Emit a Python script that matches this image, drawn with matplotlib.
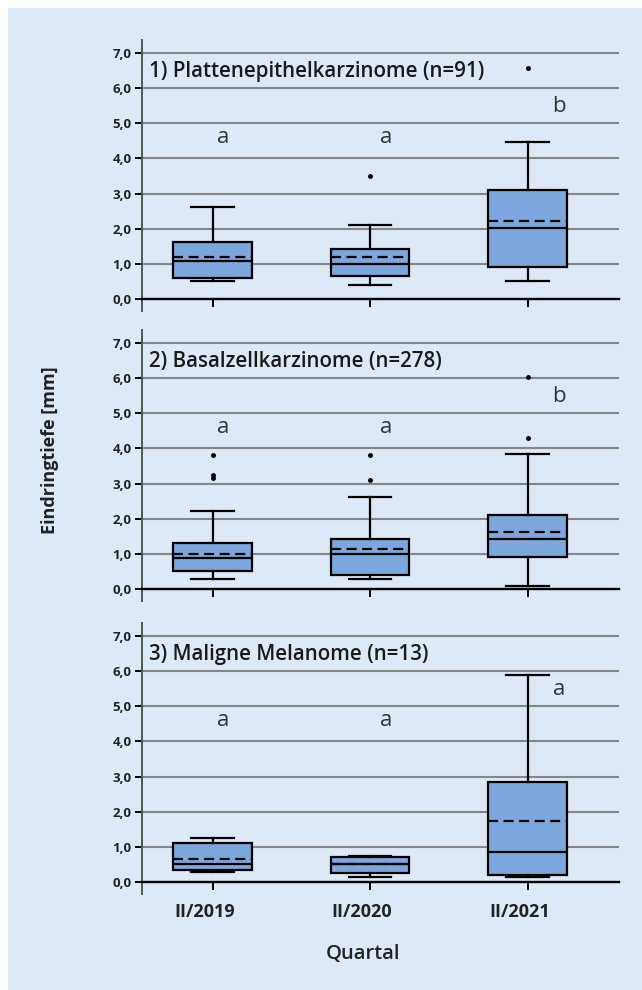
import matplotlib.pyplot as plt
from matplotlib.patches import Rectangle
from matplotlib.transforms import ScaledTranslation

# Data, mm
quarters = ['II/2019', 'II/2020', 'II/2021']
titles = ['1) Plattenepithelkarzinome (n=91)',
          '2) Basalzellkarzinome (n=278)',
          '3) Maligne Melanome (n=13)']

# per panel: [whislo, q1, med, q3, whishi, mean] per quarter
scc_stats = [[0.50, 0.61, 1.07, 1.62, 2.62, 1.21],
             [0.40, 0.65, 1.01, 1.42, 2.11, 1.21],
             [0.50, 0.92, 2.01, 3.11, 4.48, 2.22]]
bcc_stats = [[0.30, 0.50, 0.87, 1.31, 2.21, 1.00],
             [0.30, 0.40, 1.00, 1.41, 2.62, 1.15],
             [0.09, 0.91, 1.41, 2.12, 3.83, 1.63]]
mm_stats = [[0.29, 0.34, 0.52, 1.11, 1.25, 0.66],
            [0.15, 0.25, 0.50, 0.72, 0.75, 0.52],
            [0.15, 0.20, 0.85, 2.86, 5.90, 1.75]]

scc_fliers = [[], [3.49], [6.58]]
bcc_fliers = [[3.81, 3.24, 3.17], [3.81, 3.10], [4.31, 6.02]]
mm_fliers = [[], [], []]

scc_letters = ['a', 'a', 'b']
bcc_letters = ['a', 'a', 'b']
mm_letters = ['a', 'a', 'a']
letter_y = [4.6, 4.6, 5.47]

BG = '#dde9f7'
BOX = '#7ba7dc'
plt.rcParams['font.family'] = ['Open Sans', 'DejaVu Sans']

fig = plt.figure(figsize=(6.42, 9.90), dpi=100)
fig.patch.set_facecolor('white')
fig.add_artist(Rectangle((8 / 642, 0), 1, 1 - 8 / 990, transform=fig.transFigure,
                         facecolor=BG, edgecolor='none', zorder=0))

panels = [(scc_stats, scc_fliers, scc_letters),
          (bcc_stats, bcc_fliers, bcc_letters),
          (mm_stats, mm_fliers, mm_letters)]
tops = [40, 330, 623]
H = 271
left, right = 141.5, 619

for i, (stats, fliers, letters) in enumerate(panels):
    ax = fig.add_axes([left / 642, 1 - (tops[i] + H) / 990, (right - left) / 642, H / 990])
    ax.set_facecolor('none')
    bxp = []
    for s, f in zip(stats, fliers):
        bxp.append(dict(whislo=s[0], q1=s[1], med=s[2], q3=s[3], whishi=s[4],
                        mean=s[5], fliers=f))
    pos = [1, 2, 3]
    ax.bxp(bxp, positions=pos, widths=0.5, patch_artist=True, showmeans=True, meanline=True,
           boxprops=dict(facecolor=BOX, edgecolor='black', linewidth=1.6),
           medianprops=dict(color='black', linewidth=1.6),
           meanprops=dict(color='black', linewidth=1.6, linestyle=(0, (4.5, 2.5))),
           whiskerprops=dict(color='black', linewidth=1.6),
           capprops=dict(color='black', linewidth=1.6),
           capwidths=0.27,
           flierprops=dict(marker='o', markersize=2.5, markerfacecolor='black',
                           markeredgecolor='black'))
    ax.set_xlim(0.549, 3.581)
    ax.set_ylim(-0.34, 7.37)
    ax.set_yticks(range(8))
    ax.set_yticklabels([f'{v},0' for v in range(8)], fontsize=9.5, fontweight='bold',
                       color='#222222')
    for v in range(1, 8):
        ax.axhline(v, color='#858585', linewidth=1.5, zorder=0.5)
    ax.spines['top'].set_visible(False)
    ax.spines['right'].set_visible(False)
    ax.spines['bottom'].set_position(('data', 0))
    ax.spines['bottom'].set_linewidth(1.7)
    ax.spines['left'].set_color('#555555')
    ax.spines['left'].set_linewidth(1.4)
    ax.tick_params(axis='y', length=5, width=1.4, pad=2)
    ax.tick_params(axis='x', length=6, width=1.4, direction='out')
    ax.set_xticks(pos)
    if i == 2:
        ax.set_xticklabels(quarters, fontsize=13, fontweight='bold', color='#222222')
        ax.tick_params(axis='x', pad=9)
        shift = ScaledTranslation(-8 / 100, 0, fig.dpi_scale_trans)
        for lab in ax.get_xticklabels():
            lab.set_transform(lab.get_transform() + shift)
    else:
        ax.set_xticklabels([])
    ax.text(0.597, 6.47, titles[i], fontsize=14.8, fontweight='semibold',
            va='center', ha='left', color='#1a1a1a')
    offs = [0.067, 0.1, 0.2]
    for j, lt in enumerate(letters):
        ax.text(pos[j] + offs[j], letter_y[j], lt, fontsize=16, ha='center',
                va='center', color='#333333')

fig.text(50 / 642, 1 - 450 / 990, 'Eindringtiefe [mm]', rotation=90, ha='center',
         va='center', fontsize=13, fontweight='bold', color='#222222')
fig.text(363 / 642, 1 - 954 / 990, 'Quartal', ha='center', va='center',
         fontsize=14.5, fontweight='semibold', color='#222222')

fig.savefig('out.png', dpi=100, facecolor=fig.get_facecolor())
